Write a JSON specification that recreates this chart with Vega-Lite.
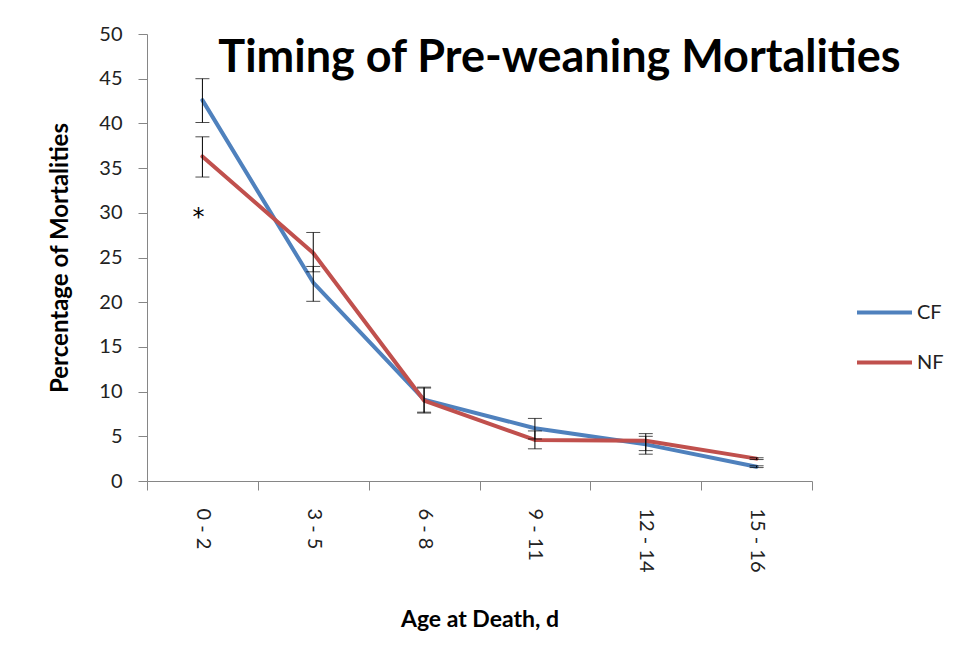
{
  "$schema": "https://vega.github.io/schema/vega-lite/v6.json",
  "width": 665,
  "height": 447,
  "autosize": {"type": "none"},
  "padding": {"left": 147, "top": 34, "right": 148, "bottom": 182},
  "background": "white",
  "config": {
    "view": {"stroke": null},
    "font": "Lato"
  },
  "title": {
    "text": "Timing of Pre-weaning Mortalities",
    "font": "Lato",
    "fontSize": 45,
    "fontWeight": "bold",
    "color": "#000000",
    "anchor": "middle",
    "frame": "group",
    "baseline": "alphabetic",
    "offset": -39,
    "dy": 54,
    "dx": 80
  },
  "datasets": {
    "main": [
      {"age": "0 - 2", "series": "CF", "value": 42.6, "lo": 40.1, "hi": 45.0},
      {"age": "3 - 5", "series": "CF", "value": 22.2, "lo": 20.1, "hi": 24.0},
      {"age": "6 - 8", "series": "CF", "value": 9.1, "lo": 7.7, "hi": 10.5},
      {"age": "9 - 11", "series": "CF", "value": 5.9, "lo": 4.7, "hi": 7.0},
      {"age": "12 - 14", "series": "CF", "value": 4.1, "lo": 3.0, "hi": 5.3},
      {"age": "15 - 16", "series": "CF", "value": 1.6, "lo": 1.5, "hi": 1.7},
      {"age": "0 - 2", "series": "NF", "value": 36.3, "lo": 34.0, "hi": 38.5},
      {"age": "3 - 5", "series": "NF", "value": 25.5, "lo": 23.4, "hi": 27.8},
      {"age": "6 - 8", "series": "NF", "value": 9.0, "lo": 7.6, "hi": 10.4},
      {"age": "9 - 11", "series": "NF", "value": 4.6, "lo": 3.6, "hi": 5.6},
      {"age": "12 - 14", "series": "NF", "value": 4.5, "lo": 3.4, "hi": 5.0},
      {"age": "15 - 16", "series": "NF", "value": 2.5, "lo": 2.4, "hi": 2.6}
    ],
    "note": [
      {"age": "0 - 2", "value": 29.4, "label": "*"}
    ]
  },
  "encoding": {
    "x": {
      "field": "age",
      "type": "ordinal",
      "sort": ["0 - 2", "3 - 5", "6 - 8", "9 - 11", "12 - 14", "15 - 16"],
      "bandPosition": 0.5,
      "scale": {"type": "band", "paddingInner": 0, "paddingOuter": 0},
      "axis": {
        "title": "Age at Death, d",
        "titleFont": "Lato",
        "titleFontSize": 23,
        "titleFontWeight": "bold",
        "titleColor": "#000000",
        "titlePadding": 36,
        "labelAngle": 90,
        "labelAlign": "left",
        "labelBaseline": "middle",
        "labelFontSize": 20,
        "labelColor": "#222222",
        "labelPadding": 18,
        "tickSize": 9,
        "tickBand": "extent",
        "tickColor": "#868686",
        "domainColor": "#868686",
        "grid": false
      }
    }
  },
  "layer": [
    {
      "data": {"name": "main"},
      "mark": {"type": "line", "strokeWidth": 4, "strokeCap": "round", "strokeJoin": "round"},
      "encoding": {
        "y": {
          "field": "value",
          "type": "quantitative",
          "scale": {"domain": [0, 50], "nice": false},
          "axis": {
            "title": "Percentage of Mortalities",
            "titleFont": "Lato",
            "titleFontSize": 24,
            "titleFontWeight": "bold",
            "titleColor": "#000000",
            "titlePadding": 26,
            "values": [0, 5, 10, 15, 20, 25, 30, 35, 40, 45, 50],
            "labelFontSize": 20,
            "labelColor": "#222222",
            "labelPadding": 16,
            "tickSize": 9,
            "tickColor": "#868686",
            "domainColor": "#868686",
            "grid": false
          }
        },
        "color": {
          "field": "series",
          "type": "nominal",
          "scale": {"domain": ["CF", "NF"], "range": ["#4F81BD", "#C0504D"]},
          "legend": {
            "title": null,
            "orient": "none",
            "legendX": 708,
            "legendY": 249,
            "symbolType": "stroke",
            "symbolStrokeWidth": 4,
            "symbolSize": 3025,
            "labelFontSize": 20,
            "labelColor": "#222222",
            "rowPadding": 10,
            "labelOffset": 3
          }
        }
      }
    },
    {
      "data": {"name": "main"},
      "mark": {"type": "rule", "color": "#000000", "strokeWidth": 1},
      "encoding": {
        "y": {"field": "lo", "type": "quantitative"},
        "y2": {"field": "hi"}
      }
    },
    {
      "data": {"name": "main"},
      "mark": {"type": "tick", "color": "#000000", "orient": "horizontal", "size": 14, "thickness": 1},
      "encoding": {
        "y": {"field": "lo", "type": "quantitative"}
      }
    },
    {
      "data": {"name": "main"},
      "mark": {"type": "tick", "color": "#000000", "orient": "horizontal", "size": 14, "thickness": 1},
      "encoding": {
        "y": {"field": "hi", "type": "quantitative"}
      }
    },
    {
      "data": {"name": "note"},
      "mark": {"type": "text", "fontSize": 24, "font": "DejaVu Sans", "color": "#000000", "baseline": "middle", "align": "center", "dx": -4},
      "encoding": {
        "y": {"field": "value", "type": "quantitative"},
        "text": {"field": "label"}
      }
    }
  ]
}
